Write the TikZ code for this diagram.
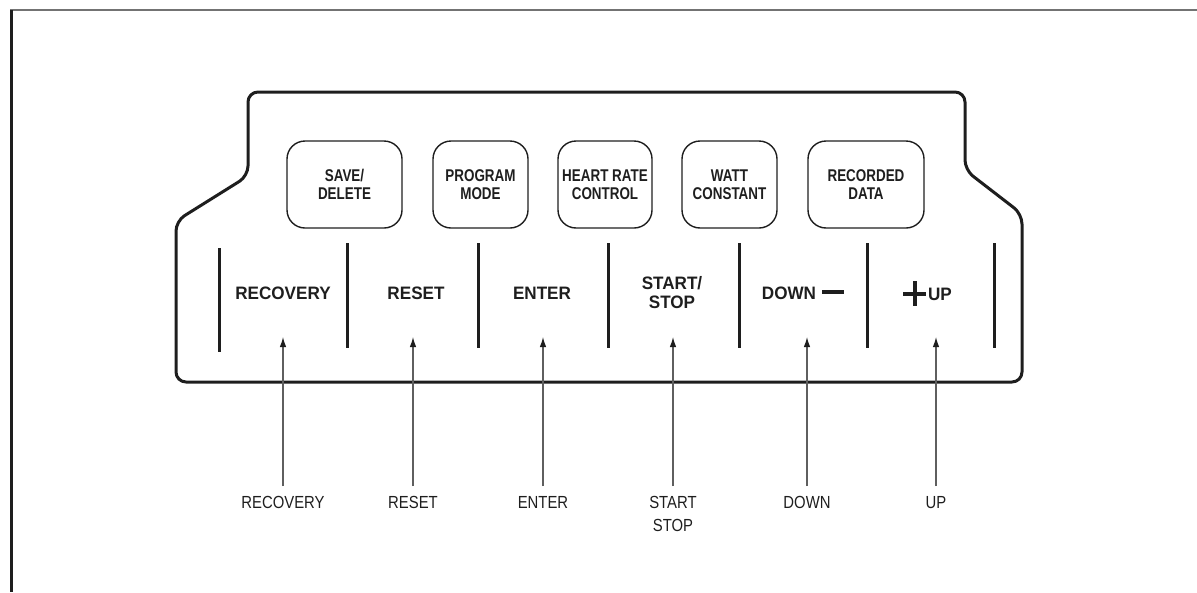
\documentclass[tikz,border=0pt]{standalone}
\usepackage{fontspec}
\setmainfont{Liberation Sans}
\newfontfamily\keyfont{Liberation Sans}[FakeStretch=0.79]
\newfontfamily\panelfont{Liberation Sans}[FakeStretch=0.95]
\newfontfamily\calloutfont{Liberation Sans}[FakeStretch=0.85]
\usetikzlibrary{arrows.meta,positioning}
\definecolor{panelblack}{RGB}{30,30,30}
\definecolor{arrowgray}{RGB}{95,95,95}
\definecolor{framegray}{RGB}{115,115,115}
\newcommand{\minussign}{\rule[5pt]{22pt}{4pt}}
\newcommand{\plussign}{\makebox[23pt]{\rule[-5pt]{4pt}{25pt}}\hspace{-23pt}\rule[5pt]{23pt}{4pt}}

\begin{document}
\begin{tikzpicture}[x=1pt, y=-1pt,
    panelline/.style={panelblack, line width=3pt},
    keybtn/.style={draw=panelblack, line width=1.4pt, rounded corners=18pt,
      minimum height=87pt, inner sep=0pt, align=center, text=panelblack,
      font=\keyfont\bfseries\fontsize{17}{18.5}\selectfont},
    keylabel/.style={inner sep=0pt, align=center, text=panelblack,
      font=\panelfont\bfseries\fontsize{18}{19.5}\selectfont},
    callout/.style={inner sep=0pt, anchor=north, align=center, text=panelblack,
      font=\calloutfont\fontsize{17.5}{23}\selectfont},
    callarrow/.style={arrowgray, line width=1.2pt, shorten <=10pt,
      -{Latex[length=10pt,width=6.5pt,color=panelblack]}}]
    \useasboundingbox (0,0) rectangle (1197,592);
    % Page frame
    \draw[framegray, line width=2pt] (10,10) -- (1197,10);
    \draw[panelblack, line width=3pt] (11,10) -- (11,592);
    % Console outline
    \draw[panelline, rounded corners=10pt] (248,176) -- (248,92) -- (965,92)
      -- (965,170) -- (1022,214) -- (1022,382) -- (176,382) -- (176,221) -- cycle;
    % Upper keys
    \node[keybtn, minimum width=115pt] (btnSave) at (344.5,184.5) {SAVE/\\DELETE};
    \node[keybtn, minimum width=95pt] (btnProgram) at (480.5,184.5) {PROGRAM\\MODE};
    \node[keybtn, minimum width=94pt] (btnHeart) at (605,184.5) {HEART RATE\\CONTROL};
    \node[keybtn, minimum width=95pt] (btnWatt) at (729.5,184.5) {WATT\\CONSTANT};
    \node[keybtn, minimum width=116pt] (btnRecorded) at (866,184.5) {RECORDED\\DATA};
    % Separator bars
    \foreach \x/\ya/\yb in {219/248/352, 347/243/348, 478/243/348, 608/243/348,
        739/243/348, 867/243/348, 994/243/348}
      \draw[panelline] (\x,\ya) -- (\x,\yb);
    % Lower keys
    \node[keylabel] (keyRecovery) at (283,293) {RECOVERY};
    \node[keylabel] (keyReset) at (416,293) {RESET};
    \node[keylabel] (keyEnter) at (542,293) {ENTER};
    \node[keylabel] (keyStart) at (672,292.5) {START/\\STOP};
    \node[keylabel] (keyDown) at (803,293) {DOWN\hspace{6pt}\minussign};
    \node[keylabel] (keyUp) at (927.5,293) {\plussign\hspace{2pt}UP};
    % Arrow tips
    \coordinate (tipRecovery) at (283,337);
    \coordinate (tipReset) at (413,337);
    \coordinate (tipEnter) at (543,337);
    \coordinate (tipStart) at (673,337);
    \coordinate (tipDown) at (807,337);
    \coordinate (tipUp) at (936,337);
    % Callouts
    \node[callout] (calloutRecovery) at (283,496) {RECOVERY};
    \node[callout] (calloutReset) at (413,496) {RESET};
    \node[callout] (calloutEnter) at (543,496) {ENTER};
    \node[callout] (calloutStart) at (673,496) {START\\STOP};
    \node[callout] (calloutDown) at (807,496) {DOWN};
    \node[callout] (calloutUp) at (936,496) {UP};
    \foreach \n in {Recovery,Reset,Enter,Start,Down,Up}
      \draw[callarrow] (callout\n.north) -- (tip\n);
\end{tikzpicture}
\end{document}
